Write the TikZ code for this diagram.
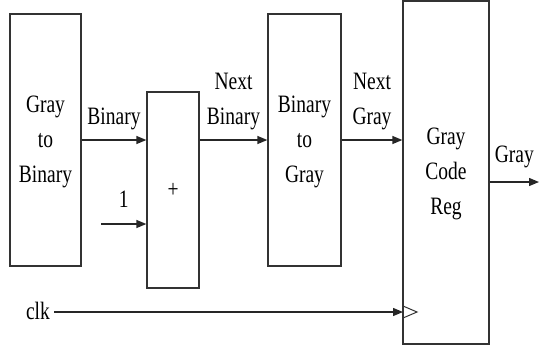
\documentclass[tikz,border=0pt]{standalone}
\usepackage{fontspec}
\setmainfont{Liberation Serif}
\newfontfamily\tnr{Liberation Serif}
\usepackage{graphicx}
\usepackage{tikz}
\usetikzlibrary{arrows.meta}
\newcommand{\squeeze}[1]{\scalebox{0.78}[1]{\begin{tabular}{@{}c@{}}#1\end{tabular}}}
\tikzstyle{block} = [rectangle, draw=black!80, line width=1.3pt, inner sep=0pt, text centered, font=\tnr\fontsize{25}{35}\selectfont]
\tikzstyle{lbl} = [inner sep=0pt, font=\tnr\fontsize{25}{35}\selectfont]
\tikzstyle{arrow} = [line width=1.3pt, draw=black!85, -{Triangle[length=10pt,width=8pt]}]

\begin{document}
\begin{tikzpicture}[x=1pt,y=-1pt]
\useasboundingbox (0,0) rectangle (540,354);
\node (g2b) [block, minimum width=71pt, minimum height=252pt] at (45.5,140) {\squeeze{Gray\\to\\Binary}};
\node (add) [block, minimum width=52pt, minimum height=196pt] at (173,190) {\squeeze{+}};
\node (b2g) [block, minimum width=73pt, minimum height=252pt] at (304.5,140) {\squeeze{Binary\\to\\Gray}};
\node (reg) [block, minimum width=86pt, minimum height=343pt] at (446,172.5) {\squeeze{Gray\\Code\\Reg}};
\node (clk) [lbl] at (38,312) {\squeeze{clk}};
\coordinate (one) at (101,224);
\coordinate (out) at (539,182);
\coordinate (ck) at (403,312);

\draw [arrow] (g2b) -- node [lbl, above=4pt] {\squeeze{Binary}} (g2b -| add.west);
\draw [arrow] (one) -- node [lbl, above=5pt] {\squeeze{1}} (one -| add.west);
\draw [arrow] (add.east |- b2g) -- node [lbl, above=4pt] {\squeeze{Next\\Binary}} (b2g);
\draw [arrow] (b2g) -- node [lbl, above=4pt] {\squeeze{Next\\Gray}} (b2g -| reg.west);
\draw [arrow] (reg.east |- out) -- node [lbl, above=8pt] {\squeeze{Gray}} (out);
\draw [arrow] ([xshift=4pt]clk.east) -- (ck);
\draw [line width=1pt, draw=black!80] (ck) ++(0,-6) -- ++(14,6) -- ++(-14,6);
\end{tikzpicture}
\end{document}
